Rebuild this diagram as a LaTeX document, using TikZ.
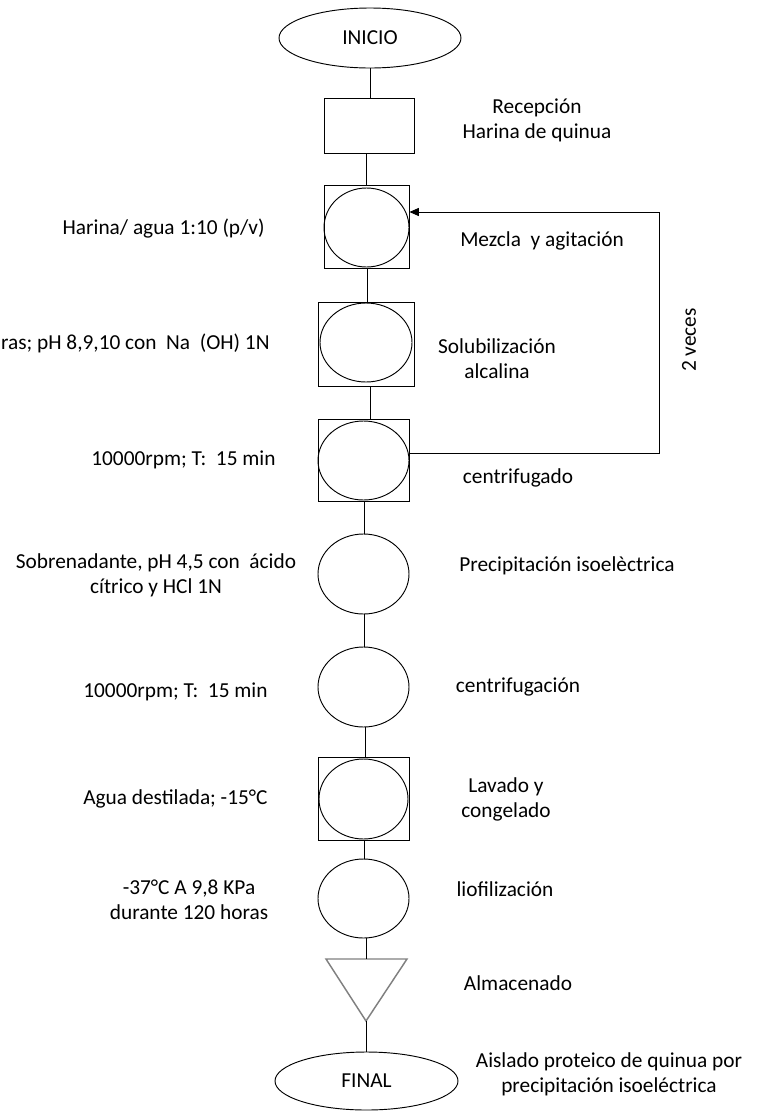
\documentclass[tikz,border=0pt]{standalone}
\usepackage{fontspec}
\setmainfont{Carlito}
\usetikzlibrary{shapes.geometric,arrows.meta}
\begin{document}
\begin{tikzpicture}[x=0.75pt,y=-0.75pt,
  line width=0.7pt,
  term/.style={draw,ellipse,inner sep=0pt},
  opbox/.style={draw,rectangle,inner sep=0pt},
  opcirc/.style={draw,ellipse,inner sep=0pt},
  lbl/.style={font=\fontsize{16}{18.75}\selectfont,align=center,inner sep=0pt},
  conn/.style={draw,line width=0.7pt}]
\useasboundingbox (0,0) rectangle (759,1111);
% terminals
\node[term,minimum width=182*0.75pt,minimum height=60*0.75pt] (inicio) at (370,38) {\fontsize{16}{18}\selectfont INICIO};
\node[term,minimum width=183*0.75pt,minimum height=58*0.75pt] (final) at (366.5,1081) {\fontsize{16}{18}\selectfont FINAL};
% reception
\node[opbox,minimum width=90*0.75pt,minimum height=55*0.75pt] (recep) at (369,125.5) {};
% mezcla
\node[opbox,minimum width=85*0.75pt,minimum height=83*0.75pt] (mezb) at (366.5,226.5) {};
\node[opcirc,minimum width=85*0.75pt,minimum height=79*0.75pt] (mezc) at (366.5,227.5) {};
% solubilizacion
\node[opbox,minimum width=96*0.75pt,minimum height=84*0.75pt] (solb) at (366,344) {};
\node[opcirc,minimum width=92*0.75pt,minimum height=79*0.75pt] (solc) at (366,342.5) {};
% centrifugado
\node[opbox,minimum width=91*0.75pt,minimum height=82*0.75pt] (cenb) at (363.5,460) {};
\node[opcirc,minimum width=91*0.75pt,minimum height=79*0.75pt] (cenc) at (363.5,460.5) {};
% precipitacion
\node[opcirc,minimum width=91*0.75pt,minimum height=80*0.75pt] (prec) at (363.5,574) {};
% centrifugacion
\node[opcirc,minimum width=91*0.75pt,minimum height=80*0.75pt] (cfgc) at (363.5,687) {};
% lavado
\node[opbox,minimum width=91*0.75pt,minimum height=83*0.75pt] (lavb) at (363.5,798.5) {};
\node[opcirc,minimum width=89*0.75pt,minimum height=80*0.75pt] (lavc) at (363.5,799) {};
% liofilizacion
\node[opcirc,minimum width=91*0.75pt,minimum height=79*0.75pt] (liof) at (363.5,898.5) {};
% almacenado triangle
\coordinate (tl) at (326,959);
\coordinate (tr) at (407,959);
\coordinate (tapex) at (366,1021);
\coordinate (ttop) at (366,959);
\draw[gray,line width=1.1pt,line join=miter] (tl) -- (tr) -- (tapex) -- cycle;
% connectors
\draw[conn] (inicio.south) -- (inicio.south |- recep.north);
\draw[conn] (366,153) -- (366,185);
\draw[conn] (367.5,268) -- (367.5,302);
\draw[conn] (370,386) -- (370,419);
\draw[conn] (364,501) -- (364,534);
\draw[conn] (364.5,614) -- (364.5,647);
\draw[conn] (365,727) -- (365,757);
\draw[conn] (364.5,840) -- (364.5,859);
\draw[conn] (366,938) -- (ttop);
\draw[conn] (tapex) -- (tapex |- final.north);
% loop
\coordinate (lp1) at (659,453);
\coordinate (lp2) at (659,212);
\draw[conn,-{Triangle[length=7pt,width=6pt]}] (cenb.east |- lp1) -- (lp1) -- (lp2) -- (mezb.east |- lp2);
\node[lbl,rotate=90] (veces) at (689,340) {2 veces};
% right labels
\node[lbl] (t1) at (537,120.5) {Recepción\\Harina de quinua};
\node[lbl] (t2) at (542,241) {Mezcla\ \ y agitación};
\node[lbl] (t3) at (497,359) {Solubilización\\alcalina};
\node[lbl] (t4) at (518,478) {centrifugado};
\node[lbl] (t5) at (567,566) {Precipitación isoelèctrica};
\node[lbl] (t6) at (518,687) {centrifugación};
\node[lbl] (t7) at (506,799.5) {Lavado y\\congelado};
\node[lbl] (t8) at (505,889) {liofilización};
\node[lbl] (t9) at (518,983) {Almacenado};
\node[lbl] (t10) at (609,1074.5) {Aislado proteico de quinua por\\precipitación isoeléctrica};
% left labels
\node[lbl,anchor=east] (l1) at (265,229) {Harina/ agua 1:10 (p/v)};
\node[lbl,anchor=east] (l2) at (270,343) {ras; pH 8,9,10 con\ \ Na\ \ (OH) 1N};
\node[lbl,anchor=east] (l3) at (276,460) {10000rpm; T:\ \ 15 min};
\node[lbl] (l4) at (156,575) {Sobrenadante, pH 4,5 con\ \ ácido\\cítrico y HCl 1N};
\node[lbl,anchor=east] (l5) at (268,692) {10000rpm; T:\ \ 15 min};
\node[lbl,anchor=east] (l6) at (268,799) {Agua destilada; -15°C};
\node[lbl] (l7) at (189,899.5) {-37°C A 9,8 KPa\\durante 120 horas};
\end{tikzpicture}
\end{document}
